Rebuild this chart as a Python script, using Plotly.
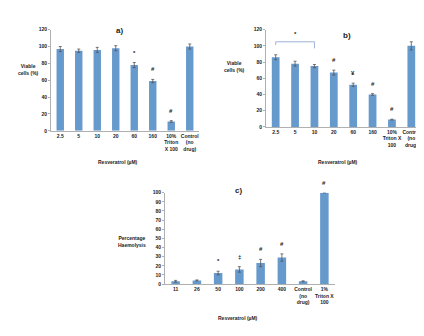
import plotly.graph_objects as go

# Panel a
a_labels = ["2.5", "5", "10", "20", "60", "160", "10%<br>Triton<br>X 100", "Control<br>(no<br>drug)"]
a_values = [97, 95, 96, 98, 78, 59, 11, 100]
a_errors = [3, 2, 3, 3, 3, 2, 1, 3]
a_marks = ["", "", "", "", "*", "#", "#", ""]

# Panel b
b_labels = ["2.5", "5", "10", "20", "60", "160", "10%<br>Triton X<br>100", "Control<br>(no<br>drug)"]
b_values = [86, 78, 75, 67, 52, 40, 9, 100]
b_errors = [3, 3, 2, 3, 2, 1, 0.5, 5]
b_marks = ["", "", "", "#", "¥", "#", "#", ""]

# Panel c
c_labels = ["11", "26", "50", "100", "200", "400", "Control<br>(no<br>drug)", "1%<br>Triton X<br>100"]
c_values = [3, 4, 12, 16, 23, 29, 3, 100]
c_errors = [1, 0.5, 2, 3, 4, 4, 0.5, 0]
c_marks = ["", "", "*", "‡", "#", "#", "", "#"]

BAR = "#6699cc"
FONT = "Liberation Sans"
TXT = "#222222"

fig = go.Figure()

panels = [
    ("x", "y", a_labels, a_values, a_errors, a_marks),
    ("x2", "y2", b_labels, b_values, b_errors, b_marks),
    ("x3", "y3", c_labels, c_values, c_errors, c_marks),
]
for xa, ya, labs, vals, errs, marks in panels:
    idx = list(range(len(labs)))
    fig.add_trace(go.Bar(
        x=idx, y=vals, xaxis=xa, yaxis=ya, marker_color=BAR, width=0.4,
        marker_line_width=0,
        error_y=dict(type="data", array=errs, visible=True, color="#555555", thickness=0.8, width=1.5),
        showlegend=False,
    ))
    for i, v, e, m in zip(idx, vals, errs, marks):
        if m:
            fig.add_annotation(x=i, y=v + e, xref=xa, yref=ya, text="<b>" + m + "</b>",
                               showarrow=False, yanchor="bottom", yshift=5,
                               font=dict(family=FONT, size=6, color=TXT))

axis_common = dict(showline=True, linecolor="#b0b0b0", linewidth=1, showgrid=False, zeroline=False,
                   tickfont=dict(family=FONT, size=5, color=TXT, weight="bold"))

def xax(dom, anchor, labs):
    return dict(domain=dom, anchor=anchor, ticks="", range=[-0.5, len(labs) - 0.5], tickangle=0,
                tickmode="array", tickvals=list(range(len(labs))), ticktext=labs, **axis_common)

fig.update_layout(
    width=424, height=336, margin=dict(l=0, r=0, t=0, b=0),
    paper_bgcolor="white", plot_bgcolor="white",
    xaxis=xax([43/424, 191/424], "y", a_labels),
    yaxis=dict(domain=[1-122/336, 1-19/336], anchor="x", range=[0, 120], dtick=20,
               ticks="outside", ticklen=2, tickcolor="#b0b0b0", **axis_common),
    xaxis2=xax([258/424, 413/424], "y2", b_labels),
    yaxis2=dict(domain=[1-118/336, 1-19/336], anchor="x2", range=[0, 120], dtick=20,
                ticks="outside", ticklen=2, tickcolor="#b0b0b0", **axis_common),
    xaxis3=xax([157/424, 327/424], "y3", c_labels),
    yaxis3=dict(domain=[1-278/336, 1-185/336], anchor="x3", range=[0, 100], dtick=10,
                ticks="outside", ticklen=2, tickcolor="#b0b0b0", **axis_common),
)

# Bracket in panel b
fig.add_shape(type="path", xref="x2", yref="y2",
              path="M 0,101 L 0,105 L 2,105 L 2,97",
              line=dict(color="#9fb3d6", width=1))
fig.add_annotation(x=1, y=108, xref="x2", yref="y2", text="<b>*</b>", showarrow=False,
                   yanchor="bottom", font=dict(family=FONT, size=6, color=TXT))

def ptext(txt, x, y, size=5, align="center"):
    fig.add_annotation(x=x/424, y=1-y/336, xref="paper", yref="paper", text=txt, showarrow=False,
                       xanchor="center", yanchor="middle", align=align,
                       font=dict(family=FONT, size=size, color=TXT))

# titles
ptext("<b>a)</b>", 111, 20, size=8)
ptext("<b>b)</b>", 339, 25, size=8)
ptext("<b>c)</b>", 230, 183, size=8)
# y titles
ptext("<b>Viable<br>cells (%)</b>", 20, 60)
ptext("<b>Viable<br>cells (%)</b>", 226, 57)
ptext("<b>Percentage<br>Haemolysis</b>", 124, 235)
# x titles
ptext("<b>Resveratrol (µM)</b>", 110, 154)
ptext("<b>Resveratrol (µM)</b>", 330, 154)
ptext("<b>Resveratrol (µM)</b>", 230, 313)

fig.write_html("out.html")
